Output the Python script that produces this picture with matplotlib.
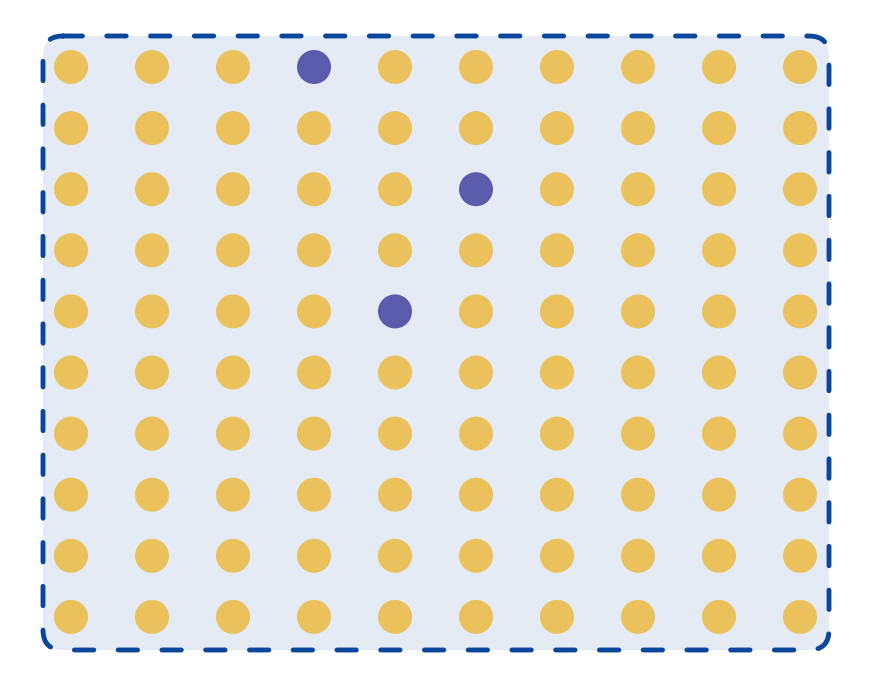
import matplotlib
matplotlib.use('Agg')
import matplotlib.pyplot as plt
from matplotlib.patches import FancyBboxPatch
import numpy as np

# 10 x 10 grid, highlighted cells given as (row, col)
n_rows = 10
n_cols = 10
highlight_rows = [0, 2, 4]
highlight_cols = [3, 5, 4]

base_color = '#EAC15A'
highlight_color = '#5B5BAE'
panel_color = '#E4EBF4'
border_color = '#0A469C'

W, H = 872, 682
fig = plt.figure(figsize=(W / 100, H / 100), dpi=100)
fig.patch.set_facecolor('white')

# frame axes in pixel units
frame_ax = fig.add_axes([0, 0, 1, 1])
frame_ax.set_xlim(0, W)
frame_ax.set_ylim(H, 0)
frame_ax.axis('off')
box = FancyBboxPatch((43, 36), 786, 614,
                     boxstyle='round,pad=0,rounding_size=20',
                     facecolor=panel_color, edgecolor=border_color,
                     linewidth=3.5, linestyle=(0, (4.0, 5.0)))
box.set_capstyle('round')
frame_ax.add_patch(box)

# dot axes in grid units: col 0 at x=71px, spacing 81px; row 0 at y=67px, spacing 61.1px
ax = fig.add_axes([0, 0, 1, 1])
ax.patch.set_alpha(0)
ax.set_xlim((0 - 71) / 81, (W - 71) / 81)
ax.set_ylim((H - 67) / 61.1, (0 - 67) / 61.1)
ax.axis('off')

cols, rows = np.meshgrid(np.arange(n_cols), np.arange(n_rows))
colors = np.full(cols.shape, base_color, dtype=object)
for r, c in zip(highlight_rows, highlight_cols):
    colors[r, c] = highlight_color

ax.scatter(cols.ravel(), rows.ravel(), s=600, c=list(colors.ravel()),
           linewidths=0, zorder=3)

fig.savefig('out.png', dpi=100, facecolor='white')
